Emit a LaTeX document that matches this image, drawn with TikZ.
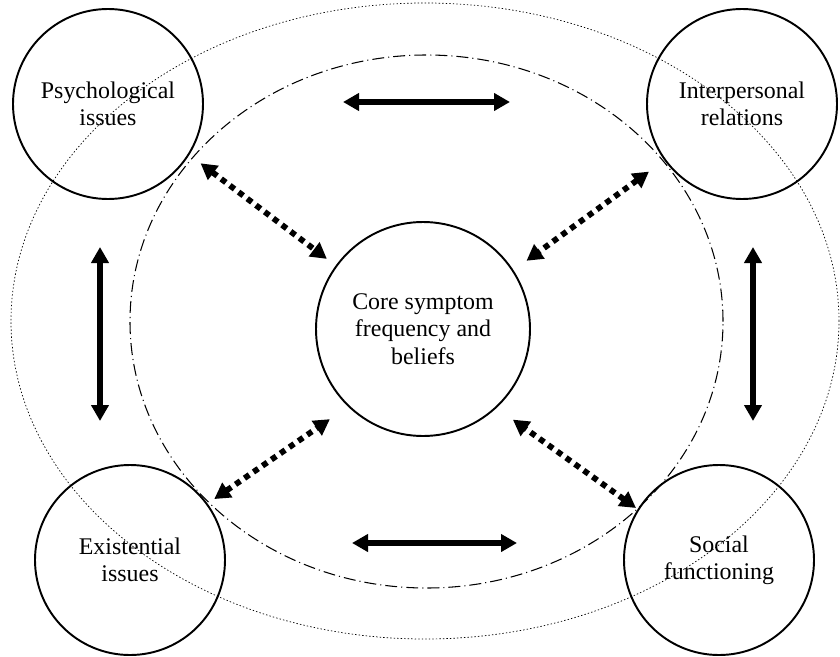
\documentclass[tikz,border=0pt]{standalone}
\usepackage{fontspec}
\setmainfont{Liberation Serif}
\usetikzlibrary{arrows.meta}

\begin{document}
\begin{tikzpicture}[line join=round,font=\fontsize{13.6}{15.6}\selectfont,
	>={Triangle[length=0.32cm,width=0.34cm]},
	box/.style={draw,circle,line width=1.1pt,minimum size=3.8cm,inner sep=0pt,align=center},
	link/.style={<->,line width=3.4pt},
	dotlink/.style={<->,line width=3.3pt,dash pattern=on 3.3pt off 2.9pt}]
	\useasboundingbox (0,0) rectangle (16.8,13.12);
	\draw[line width=0.4pt,dash pattern=on 0.8pt off 1.2pt] (8.5,6.7) ellipse (8.28 and 6.36);
	\draw[line width=0.6pt,dash pattern=on 6.8pt off 2.3pt on 0.6pt off 2.3pt] (8.53,6.69) ellipse (5.93 and 5.33);
	\node[box] (psy) at (2.16,11.04) {Psychological\\issues};
	\node[box] (inter) at (14.84,11.04) {Interpersonal\\relations};
	\node[box] (exist) at (2.6,1.92) {Existential\\issues};
	\node[box] (social) at (14.38,1.92) {Social\\functioning};
	\node[box,minimum size=4.28cm] (core) at (8.46,6.54) {Core symptom\\frequency and\\beliefs};
	% arrows between the outer circles
	\path
	(6.86,11.08) coordinate (PI1) (10.2,11.08) coordinate (PI2)
	(7.04,2.26) coordinate (ES1) (10.34,2.26) coordinate (ES2)
	(2.0,8.18) coordinate (PE1) (2.0,4.7) coordinate (PE2)
	(15.06,8.18) coordinate (IS1) (15.06,4.7) coordinate (IS2);
	\foreach \a/\b in {PI1/PI2,ES1/ES2,PE1/PE2,IS1/IS2}
	\draw[link] (\a)--(\b);
	% arrows to the core
	\foreach \n/\u/\v/\s/\t in {psy/328/144/0.28/0.22,inter/216/33/0.38/0.32,exist/36/226/0.16/0.44,social/148/313/0.04/0.4}
	\draw[dotlink,shorten <=\s cm,shorten >=\t cm] (\n.\u)--(core.\v);
\end{tikzpicture}
\end{document}
